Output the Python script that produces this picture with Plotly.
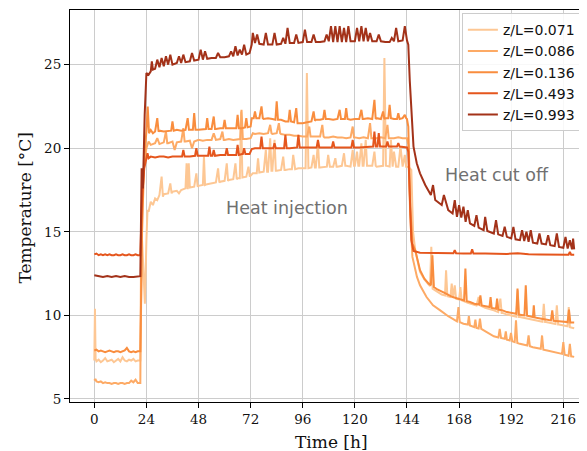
import plotly.graph_objects as go

# ---------------- data (time [h], temperature [°C]) ----------------
labels = ["z/L=0.071", "z/L=0.086", "z/L=0.136", "z/L=0.493", "z/L=0.993"]
colors = ["#fdc794", "#fdaa65", "#f98d3e", "#e5561d", "#a33219"]

s071 = [(0,7.3),(0.3,10.4),(0.6,7.4),(1,7.25),(2,7.35),(3,7.2),(4,7.3),(5,7.45),(6,7.25),(7,7.3),(8,7.35),(9,7.2),(10,7.3),(11,7.4),(12,7.25),(13,7.5),(14,7.3),(15,7.25),(16,7.35),(17,7.3),(18,7.4),(19,7.25),(20,7.3),(21.2,7.3),(22,14.5),(22.7,12.0),(23.3,10.7),(24,14.5),(24.5,16.3),(25,16.2),(26,16.8),(27,16.6),(28,17.0),(29,16.9),(30,17.2),(31,18.3),(31.6,17.1),(32,17.25),(34,17.3),(35,17.9),(35.6,17.3),(36,17.4),(38,17.45),(39,17.3),(40,17.5),(42,17.6),(42.5,19.1),(43,17.55),(43.5,19.1),(44,17.65),(46,17.7),(47,18.5),(47.6,17.7),(48,17.75),(50,17.8),(50.5,19.5),(51,17.8),(52,17.85),(54,17.9),(56,17.95),(57,18.8),(57.6,17.95),(58,18.0),(60,18.05),(61,19.1),(61.6,18.05),(62,18.1),(64,18.15),(65,19.1),(65.6,18.15),(66,18.2),(67,18.2),(67.6,22.2),(68.2,18.25),(70,18.3),(71,18.9),(71.6,18.3),(72,18.35),(73,18.5),(74,18.5),(74.8,18.5),(75.4,19.4),(76,18.55),(78,18.6),(79,19.9),(79.6,18.6),(80,18.6),(81,20.6),(81.6,18.65),(82,18.65),(83,20.5),(83.6,18.65),(84,18.65),(86,18.7),(87,19.5),(87.6,18.7),(88,18.7),(90,18.75),(91,18.75),(91.6,19.6),(92.5,18.75),(94,18.8),(96,18.8),(97.3,18.8),(97.9,24.5),(98.6,18.8),(100,18.85),(101,19.6),(101.6,18.85),(102,18.85),(103,20.3),(103.6,18.85),(104,18.85),(106,18.9),(107.1,18.9),(107.7,19.6),(108.5,18.9),(110,18.9),(111,19.4),(111.6,18.9),(112,18.9),(114,18.95),(115,19.7),(115.6,18.95),(116,18.95),(118,18.9),(119,19.9),(119.6,18.95),(120,18.95),(121,19.8),(121.6,18.95),(122,18.95),(123,20.3),(123.6,18.95),(124,18.95),(125,20.5),(125.6,18.95),(126,18.95),(128,18.95),(129,19.8),(129.6,18.95),(130,18.9),(132,18.95),(133,18.95),(133.6,25.4),(134.3,18.95),(136,18.9),(136.6,20.5),(137.4,18.9),(138,19.8),(139,18.9),(140,18.9),(141,20.1),(142,18.9),(143,19.6),(143.6,18.9),(144,18.9),(145,18.85),(146,18.7),(146.8,15.0),(147.8,13.9),(149,13.1),(150,12.6),(152,12.15),(154,11.8),(154.6,11.75),(155.2,14.1),(155.8,11.6),(157,11.5),(158,11.4),(160,11.25),(161.5,11.2),(162,12.7),(162.6,11.15),(164,11.1),(164.6,11.9),(165.2,11.05),(166,11.8),(166.6,11.0),(168,10.95),(168.6,11.7),(169.2,10.9),(172,10.75),(176,10.6),(177,11.1),(177.6,10.6),(180,10.45),(184,10.3),(186,10.2),(187,11.0),(187.6,10.15),(188,10.15),(190,10.05),(192,10.0),(194.4,9.92),(195,11.5),(195.6,9.9),(196,9.9),(198,9.85),(200,9.8),(204,9.7),(206.4,9.62),(207,10.7),(207.6,9.6),(208,9.6),(210,9.55),(212,9.5),(212.4,9.48),(213,10.6),(213.6,9.45),(214,9.45),(216,9.4),(217.9,9.35),(218.5,10.5),(219,9.3),(221,9.23)]

s086 = [(0,6.1),(0.5,6.2),(1,6.05),(2,6.0),(3,6.05),(4,5.95),(5,6.0),(6,5.95),(7,5.95),(8,5.9),(9,5.95),(10,5.95),(11,5.9),(12,5.95),(13,5.95),(14,5.9),(15,5.95),(16,5.95),(17,6.1),(18,6.0),(19,6.15),(20,5.95),(21.2,5.95),(21.6,15.0),(22.5,18.5),(23.5,19.8),(24,20.0),(25,20.4),(26,20.2),(28,20.3),(29,20.6),(30,20.25),(32,20.35),(33,21.0),(33.6,20.3),(34,20.3),(36,20.4),(37,19.9),(38,20.35),(40,20.4),(41,21.2),(41.6,20.4),(42,20.4),(44,20.45),(45,20.0),(46,20.4),(48,20.5),(50,20.45),(52,20.5),(54,20.5),(55,20.9),(56,20.5),(58,20.55),(59,21.0),(59.6,20.5),(60,20.5),(62,20.55),(64,20.5),(66,20.55),(67.2,20.55),(67.8,22.3),(68.4,20.55),(70,20.55),(72,20.6),(73,20.9),(74,20.85),(76,20.9),(78,20.85),(80,20.9),(81,21.4),(81.6,20.9),(82,20.85),(84,20.9),(85,21.5),(85.6,20.9),(86,20.85),(88,20.8),(90,20.8),(92,20.75),(94,20.75),(96,20.7),(98,20.7),(99,21.3),(99.6,20.7),(100,20.7),(102,20.7),(104,20.7),(105,21.4),(105.6,20.7),(106,20.65),(108,20.65),(110,20.7),(112,20.65),(114,20.65),(116,20.6),(118,20.65),(119,21.3),(119.6,20.65),(120,20.65),(122,20.6),(124,20.65),(126,20.6),(127,21.5),(127.6,20.6),(128,20.6),(130,20.6),(132,20.65),(134,20.6),(135,21.4),(135.6,20.6),(136,20.6),(138,20.6),(140,20.65),(142,20.6),(144,20.6),(144.6,20.2),(145.5,16.0),(146.5,13.5),(148.6,12.3),(150,11.8),(153,11.1),(156,10.6),(159.3,10.3),(163,9.95),(167,9.65),(167.7,10.5),(168.3,9.6),(170,9.5),(172,9.45),(172.5,9.95),(173,9.4),(175,9.3),(175.5,9.75),(176,9.25),(177,9.22),(177.6,9.8),(178.2,9.2),(181,9.0),(184,8.75),(186.1,8.68),(186.7,9.2),(187.3,8.65),(189,8.6),(189.5,9.05),(190,8.55),(191.3,8.5),(191.9,8.95),(192.5,8.45),(193.6,8.4),(194.2,9.7),(194.8,8.35),(196,8.3),(199.4,8.2),(200,8.8),(200.6,8.15),(202,8.1),(205.6,8.0),(206.2,8.8),(206.8,7.95),(208.6,7.9),(212,7.8),(215.4,7.7),(216,8.4),(216.6,7.65),(218,7.6),(218.4,7.58),(219,8.3),(219.6,7.55),(221,7.52)]

s136 = [(0,7.9),(1,7.95),(2,7.85),(3,7.9),(4,7.85),(5,7.8),(6,7.85),(7,7.9),(8,7.85),(9,7.8),(10,7.85),(11,7.85),(12,7.8),(13,7.85),(14,7.9),(15,8.05),(16,7.85),(17,7.8),(18,7.85),(19,7.8),(20,7.85),(21.2,7.85),(22,15.0),(23,19.5),(24,21.0),(24.6,22.5),(25.2,20.9),(26,21.1),(27,20.9),(28,21.0),(29,21.8),(29.6,21.0),(30,21.05),(32,21.0),(34,21.05),(35.4,21.05),(36,21.6),(36.6,21.05),(38,21.1),(40,21.05),(42,21.1),(43,21.8),(43.6,21.1),(44,21.1),(45.4,21.1),(46,22.1),(46.6,21.1),(48,21.1),(50,21.15),(51.4,21.15),(52,21.8),(52.6,21.15),(54,21.15),(55,21.9),(55.6,21.15),(56,21.15),(58,21.2),(59.4,21.2),(60,21.7),(60.6,21.2),(62,21.2),(64,21.2),(65.4,21.2),(66,22.0),(66.6,21.2),(68,21.2),(69.4,21.25),(70,21.8),(70.6,21.25),(72,21.3),(72.5,21.8),(73.4,21.8),(74,22.2),(74.6,21.8),(76,21.8),(77,22.5),(77.6,21.8),(78,21.75),(80,21.8),(82,21.75),(83.4,21.7),(84,22.8),(84.6,21.7),(86,21.7),(88,21.6),(89.4,21.6),(90,22.3),(90.6,21.6),(92,21.55),(93,22.4),(93.6,21.5),(94,21.5),(96,21.5),(98,21.55),(100,21.6),(101,22.2),(101.6,21.65),(102,21.7),(104,21.7),(105.4,21.75),(106,22.3),(106.6,21.75),(108,21.75),(110,21.7),(112,21.75),(113,22.3),(113.6,21.75),(114,21.75),(115.4,21.75),(116,22.4),(116.6,21.75),(118,21.7),(120,21.75),(122,21.75),(123,22.3),(123.6,21.75),(124,21.75),(126,21.8),(128,21.75),(129,22.9),(129.6,21.75),(130,21.8),(132,21.75),(133,22.2),(133.6,21.75),(134,21.8),(135.4,21.8),(136,22.6),(136.6,21.8),(138,21.75),(139.4,21.75),(140,22.1),(140.6,21.75),(142,21.8),(143,22.0),(143.6,21.8),(144,21.75),(144.6,21.3),(145.5,16.5),(146.5,14.3),(147.8,13.9),(150,12.7),(152,12.2),(154,11.9),(155,11.8),(155.7,13.6),(156.4,11.7),(158,11.55),(160,11.4),(162,11.3),(165,11.1),(168,11.0),(170.3,10.9),(170.9,12.8),(171.5,10.85),(173,10.8),(175,10.7),(177.2,10.65),(177.8,11.2),(178.4,10.6),(180,10.55),(182,10.5),(182.5,11.1),(183,10.45),(185,10.4),(185.5,11.0),(186,10.35),(188,10.3),(190,10.2),(192,10.15),(194.3,10.1),(194.9,11.6),(195.5,10.05),(198.1,10.0),(198.7,11.8),(199.3,9.98),(202,9.9),(202.4,10.6),(202.8,9.88),(206,9.8),(208,9.75),(210.3,9.7),(210.9,10.3),(211.5,9.68),(214,9.65),(218,9.6),(218.6,10.35),(219.2,9.58),(221,9.57)]

s493 = [(0,13.65),(1,13.7),(2,13.6),(3,13.65),(4,13.6),(5,13.65),(6,13.6),(7,13.65),(8,13.6),(9,13.6),(10,13.65),(11,13.6),(12,13.6),(13,13.65),(14,13.6),(15,13.6),(16,13.65),(17,13.6),(18,13.6),(19,13.65),(20,13.6),(21.2,13.6),(22,17.0),(23,18.8),(24,19.4),(24.5,19.7),(25,19.4),(26,19.5),(28,19.45),(30,19.5),(32,19.5),(34,19.45),(36,19.5),(38,19.5),(40.4,19.5),(41,19.9),(41.6,19.5),(44,19.5),(46.4,19.55),(47,20.0),(47.6,19.55),(50,19.55),(52.4,19.55),(53,20.1),(53.6,19.55),(54.4,19.55),(55,19.9),(55.6,19.55),(58,19.6),(60.4,19.6),(61,20.0),(61.6,19.6),(64,19.6),(65.4,19.6),(66,20.2),(66.6,19.6),(68,19.65),(68.4,19.65),(69,20.0),(69.6,19.65),(71.5,19.65),(72.5,19.95),(74,20.0),(76,20.0),(76.4,20.0),(77,20.7),(77.6,20.0),(80,20.0),(82.4,20.0),(83,20.3),(83.6,20.0),(86,20.0),(87.4,20.0),(88,20.8),(88.6,20.0),(90,20.0),(92,20.05),(93.4,20.05),(94,20.8),(94.6,20.05),(98,20.05),(100,20.05),(102.4,20.05),(103,20.5),(103.6,20.05),(106,20.05),(109.4,20.05),(110,20.4),(110.6,20.05),(114,20.05),(116,20.05),(118.4,20.05),(119,20.5),(119.6,20.05),(122,20.05),(126,20.1),(128.4,20.1),(129,21.0),(129.6,20.1),(130.4,20.1),(131,20.9),(131.6,20.1),(134.4,20.1),(135,20.4),(135.6,20.1),(138,20.1),(139.4,20.1),(140,20.3),(140.6,20.1),(144,20.05),(144.6,19.8),(146,14.5),(147,13.85),(150,13.75),(155,13.75),(160,13.75),(165,13.72),(165.4,13.72),(166,13.9),(166.6,13.72),(170,13.7),(173.4,13.7),(174,13.95),(174.6,13.7),(180,13.7),(185,13.68),(190,13.68),(195,13.72),(200,13.66),(205,13.65),(210,13.65),(215,13.64),(218.4,13.63),(219,13.8),(219.6,13.63),(221,13.63)]

s993 = [(0,12.4),(2,12.35),(4,12.3),(6,12.35),(8,12.3),(10,12.35),(12,12.3),(14,12.35),(16,12.3),(18,12.3),(20,12.35),(21.2,12.35),(21.8,18.8),(22.4,17.6),(23.2,22.0),(24,24.5),(25,24.4),(26,24.6),(26.5,25.2),(27,24.7),(28,24.75),(29,25.3),(30,24.85),(31,25.4),(32,24.9),(33,25.5),(34,25.0),(35,25.6),(36,25.0),(38,25.1),(39,25.5),(40,25.1),(41,25.6),(42,25.15),(44,25.2),(45,25.7),(46,25.25),(48,25.3),(49,25.9),(50,25.3),(51,25.8),(52,25.35),(54,25.4),(56,25.4),(57,25.7),(58,25.45),(60,25.45),(62,25.5),(63,25.8),(64,25.5),(65,26.1),(66,25.55),(67,25.9),(68,25.6),(69,26.2),(70,25.6),(71.5,25.7),(72.5,26.2),(73,26.9),(74,26.3),(75,26.8),(76,26.25),(78,26.2),(79,26.9),(80,26.2),(82,26.2),(83,26.9),(84,26.2),(86,26.25),(87,26.6),(88,26.25),(89,27.2),(90,26.3),(92,26.3),(93,26.8),(94,26.3),(96,26.35),(97,27.1),(98,26.35),(100,26.35),(101,26.8),(102,26.35),(104,26.35),(106,26.4),(107,26.8),(108,26.4),(109,27.3),(110,26.35),(111,27.3),(112,26.35),(113,27.3),(114,26.35),(115,27.2),(116,26.35),(117,27.3),(118,26.4),(120,26.4),(121,27.2),(122,26.4),(123,27.3),(124,26.4),(125,27.2),(126,26.4),(127,26.9),(128,26.4),(130,26.4),(131,26.8),(132,26.4),(134,26.35),(136,26.35),(137,26.6),(138,26.4),(139,27.2),(140,26.4),(142,26.45),(143,27.3),(144,26.45),(144.6,26.2),(145.3,24.0),(146,22.0),(147,20.1),(148.5,19.1),(150,18.5),(152.4,17.8),(155,17.2),(156,17.8),(157,16.9),(160,16.6),(161,17.2),(163,16.3),(165,16.1),(166,16.9),(167,15.9),(168,16.6),(169,15.85),(170,16.5),(171,15.6),(172,16.3),(173,15.5),(175,15.35),(176,16.0),(177,15.25),(179.3,15.1),(180,15.9),(181,15.05),(184,14.9),(185,15.7),(186,14.85),(188,14.75),(189,15.3),(190,14.7),(192,14.6),(193,15.3),(194,14.55),(196,14.5),(197,15.1),(198,14.45),(199,15.0),(200,14.4),(201,15.1),(202,14.35),(204,14.3),(205,14.9),(206,14.3),(208,14.25),(209,14.8),(210,14.2),(212,14.15),(213,14.9),(214,14.1),(216,14.05),(217,14.7),(218,14.0),(219,14.5),(220,13.95),(220.5,14.6),(221,13.95)]

series = [s071, s086, s136, s493, s993]

x_ticks = [0, 24, 48, 72, 96, 120, 144, 168, 192, 216]
y_ticks = [5, 10, 15, 20, 25]
x_title = "Time [h]"
y_title = "Temperature [°C]"
notes = [("Heat injection", 88.75, 16.43), ("Heat cut off", 185.5, 18.4)]

# ---------------- figure ----------------
SERIF = "DejaVu Serif"
SANS = "DejaVu Sans"

fig = go.Figure()
for i, (lab, col, s) in enumerate(zip(labels, colors, series)):
    fig.add_trace(go.Scatter(
        x=[p[0] for p in s], y=[p[1] for p in s], mode="lines", name=lab,
        legendgroup=f"g{i}",
        line=dict(color=col, width=2)))

for txt, tx, ty in notes:
    fig.add_annotation(x=tx, y=ty, text=txt, showarrow=False,
                       font=dict(family=SANS, size=17.5, color="#707070"))

fig.add_annotation(xref="paper", yref="paper", x=0.506, y=-0.101, text=x_title,
                   showarrow=False, xanchor="center", yanchor="middle",
                   font=dict(family=SERIF, size=17, color="#111"))
fig.add_annotation(xref="paper", yref="paper", x=-0.087, y=0.496, text=y_title,
                   showarrow=False, xanchor="center", yanchor="middle", textangle=-90,
                   font=dict(family=SERIF, size=17, color="#111"))

axis_common = dict(showgrid=True, gridcolor="#cccccc", gridwidth=1, zeroline=False,
                   showline=True, linecolor="black", linewidth=1,
                   ticks="outside", ticklen=5, tickcolor="black", tickwidth=1,
                   tickfont=dict(family=SERIF, size=13.5, color="#111"))

# the page body has an 8px margin, so the figure is sized to the visible window
fig.update_layout(
    width=579, height=443,
    margin=dict(l=62, r=0, t=2, b=49),
    paper_bgcolor="white", plot_bgcolor="white",
    xaxis=dict(range=[-11.19, 226.9], tickmode="array", tickvals=x_ticks,
               mirror=True, **axis_common),
    yaxis=dict(range=[4.82, 28.27], tickmode="array", tickvals=y_ticks,
               mirror=False, **axis_common),
    legend=dict(x=0.758, y=0.992, xanchor="left", yanchor="top",
                tracegroupgap=0,
                bgcolor="rgba(255,255,255,0.85)", bordercolor="#cccccc", borderwidth=1,
                font=dict(family=SANS, size=14, color="#111")),
    showlegend=True,
)

fig.write_html("out.html")
